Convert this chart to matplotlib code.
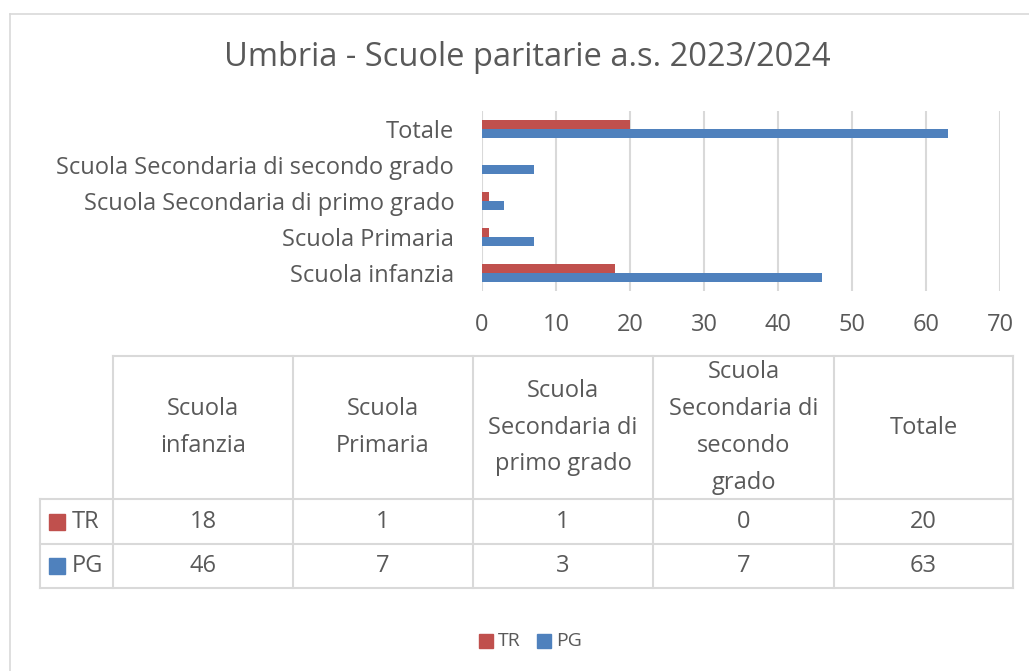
import matplotlib.pyplot as plt
from matplotlib.lines import Line2D
from matplotlib.patches import Rectangle

plt.rcParams['font.family'] = ['Open Sans', 'DejaVu Sans']

# dati
categorie = ['Scuola infanzia', 'Scuola Primaria', 'Scuola Secondaria di primo grado',
             'Scuola Secondaria di secondo grado', 'Totale']
intestazioni = ['Scuola\ninfanzia', 'Scuola\nPrimaria', 'Scuola\nSecondaria di\nprimo grado',
                'Scuola\nSecondaria di\nsecondo\ngrado', 'Totale']
serie = ['TR', 'PG']
tr = [18, 1, 1, 0, 20]
pg = [46, 7, 3, 7, 63]

W, H = 1029, 671
col_tr = '#C0504D'
col_pg = '#4F81BD'
grigio = '#595959'
linee = '#D9D9D9'
fs = 17


def fx(x):
    return x / W


def fy(y):
    return 1 - y / H


fig = plt.figure(figsize=(W / 100, H / 100), dpi=100)


def linea(x0, y0, x1, y1, lw=1.5):
    fig.lines.append(Line2D([fx(x0), fx(x1)], [fy(y0), fy(y1)], transform=fig.transFigure,
                            color=linee, lw=lw))


# cornice esterna (solo bordo sinistro e superiore visibili)
linea(10, 14, W, 14, lw=1.2)
linea(10, 14, 10, H, lw=1.2)

fig.text(fx(527), fy(57), 'Umbria - Scuole paritarie a.s. 2023/2024', ha='center', va='center',
         fontsize=23.5, color=grigio)

ax = fig.add_axes([fx(482), fy(291), fx(1000) - fx(482), fy(111) - fy(291)])
pos = list(range(len(categorie)))
h = 0.26
ax.barh([p + h / 2 for p in pos], tr, height=h, color=col_tr, label='TR', zorder=3)
ax.barh([p - h / 2 for p in pos], pg, height=h, color=col_pg, label='PG', zorder=3)
ax.set_xlim(0, 70)
ax.set_ylim(-0.5, len(categorie) - 0.5)
ax.set_xticks(range(0, 71, 10))
ax.set_yticks(pos)
ax.set_yticklabels(categorie)
ax.grid(axis='x', color=linee, lw=1.5, zorder=0)
for s in ax.spines.values():
    s.set_visible(False)
ax.tick_params(axis='both', length=0, colors=grigio, labelsize=fs)
ax.tick_params(axis='x', pad=16)
ax.tick_params(axis='y', pad=20)

# tabella
xs = [113, 293, 473, 653, 834, 1013]
y_top, y_head, y_r1, y_r2 = 356, 499, 544, 588

linea(xs[0], y_top, xs[-1], y_top)
linea(40, y_head, xs[-1], y_head)
linea(40, y_r1, xs[-1], y_r1)
linea(40, y_r2, xs[-1], y_r2)
linea(40, y_head, 40, y_r2)
for x in xs:
    linea(x, y_top, x, y_r2)

for i, txt in enumerate(intestazioni):
    xc = (xs[i] + xs[i + 1]) / 2
    fig.text(fx(xc), fy((y_top + y_head) / 2), txt, ha='center', va='center', fontsize=fs,
             color=grigio, linespacing=1.72)
    fig.text(fx(xc), fy((y_head + y_r1) / 2), str(tr[i]), ha='center', va='center',
             fontsize=fs, color=grigio)
    fig.text(fx(xc), fy((y_r1 + y_r2) / 2), str(pg[i]), ha='center', va='center',
             fontsize=fs, color=grigio)


def quadrato(x, yc, lato, col):
    fig.patches.append(Rectangle((fx(x), fy(yc + lato / 2)), lato / W, lato / H,
                                 transform=fig.transFigure, color=col))


for nome, col, (ya, yb) in zip(serie, [col_tr, col_pg], [(y_head, y_r1), (y_r1, y_r2)]):
    yc = (ya + yb) / 2
    quadrato(49, yc, 16, col)
    fig.text(fx(72), fy(yc), nome, ha='left', va='center', fontsize=fs, color=grigio)

# legenda
for nome, col, x in zip(serie, [col_tr, col_pg], [479, 537]):
    quadrato(x, 641, 14, col)
    fig.text(fx(x + 19), fy(641), nome, ha='left', va='center', fontsize=14, color=grigio)

fig.savefig('out.png', dpi=100)
